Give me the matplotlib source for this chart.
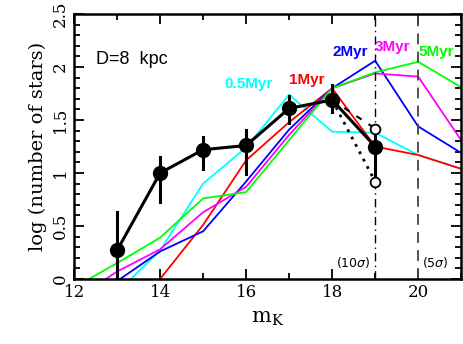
import matplotlib
matplotlib.use("Agg")
import matplotlib.pyplot as plt
from matplotlib.ticker import MultipleLocator

# Model curves (log number of stars vs K magnitude)
mag = [12, 13, 14, 15, 16, 17, 18, 19, 20, 21]
m05 = [-0.9, -0.13, 0.27, 0.90, 1.24, 1.74, 1.39, 1.38, 1.17, 1.04]
m1 = [-1.0, -0.50, 0.00, 0.51, 1.12, 1.48, 1.80, 1.25, 1.17, 1.04]
m2 = [-0.3, -0.02, 0.26, 0.45, 0.92, 1.41, 1.80, 2.06, 1.44, 1.19]
m3 = [-0.2, 0.07, 0.28, 0.63, 0.87, 1.36, 1.80, 1.94, 1.91, 1.31]
m5 = [-0.08, 0.15, 0.39, 0.76, 0.82, 1.31, 1.80, 1.95, 2.05, 1.81]

# Observed counts
obs_x = [13, 14, 15, 16, 17, 18, 19]
obs_y = [0.27, 1.00, 1.22, 1.26, 1.61, 1.69, 1.25]
obs_lo = [0.0, 0.73, 1.04, 0.99, 1.47, 1.58, 0.92]
obs_hi = [0.63, 1.15, 1.34, 1.41, 1.73, 1.83, 1.42]
# alternative values at mK=19
alt_x = [19, 19]
alt_y = [1.42, 0.92]

xticks = [12, 14, 16, 18, 20]
xticklabels = ["12", "14", "16", "18", "20"]
yticks = [0, 0.5, 1, 1.5, 2, 2.5]
yticklabels = ["0", "0.5", "1", "1.5", "2", "2.5"]

fig = plt.figure(figsize=(4.63, 3.44), dpi=100)
ax = fig.add_axes([0.16, 0.189, 0.836, 0.77])

ax.plot(mag, m05, color="#00FFFF", lw=1.3)
ax.plot(mag, m1, color="#FF0000", lw=1.3)
ax.plot(mag, m2, color="#0000FF", lw=1.3)
ax.plot(mag, m3, color="#FF00FF", lw=1.3)
ax.plot(mag, m5, color="#00FF00", lw=1.3)

ax.axvline(19, color="black", lw=1.0, ls=(0, (6, 3, 1, 3)))
ax.axvline(20, color="#444444", lw=1.3, ls=(0, (6, 4)))

ax.plot([obs_x[5], alt_x[1]], [obs_y[5], alt_y[1]], color="black", lw=2, ls=(0, (1, 2)))
ax.plot([obs_x[5], alt_x[0]], [obs_y[5], alt_y[0]], color="black", lw=1.5, ls=(0, (3, 4)))

for x, lo, hi in zip(obs_x, obs_lo, obs_hi):
    ax.plot([x, x], [lo, hi], color="black", lw=2.2)
ax.plot(obs_x, obs_y, color="black", lw=2.2, marker="o", ms=10)
ax.plot(alt_x, alt_y, ls="none", marker="o", ms=7, mfc="white", mec="black", mew=1.3)

ax.set_xlim(12, 21)
ax.set_ylim(0, 2.5)

tf = dict(family="Liberation Sans", fontweight="bold", fontsize=11)
ax.text(12.5, 2.07, "D=8  kpc", fontsize=13, family="Liberation Sans", va="center")
ax.text(15.5, 1.84, "0.5Myr", color="#00FFFF", va="center", **tf)
ax.text(17.0, 1.88, "1Myr", color="#FF0000", va="center", **tf)
ax.text(18.0, 2.14, "2Myr", color="#0000FF", va="center", **tf)
ax.text(19.0, 2.19, "3Myr", color="#FF00FF", va="center", **tf)
ax.text(20.0, 2.14, "5Myr", color="#00FF00", va="center", **tf)
ax.text(18.9, 0.16, r"(10$\sigma$)", ha="right", va="center", fontsize=9)
ax.text(20.1, 0.16, r"(5$\sigma$)", ha="left", va="center", fontsize=9)

ax.set_xticks(xticks)
ax.set_xticklabels(xticklabels, family="DejaVu Serif", fontsize=12)
ax.set_yticks(yticks)
ax.set_yticklabels(yticklabels, family="DejaVu Serif", fontsize=12,
                   rotation=90, va="center")
ax.xaxis.set_minor_locator(MultipleLocator(1))
ax.yaxis.set_minor_locator(MultipleLocator(0.1))
ax.tick_params(which="both", direction="in", top=True, right=True, width=1.3)
ax.tick_params(which="major", length=7)
ax.tick_params(which="minor", length=4)
for s in ax.spines.values():
    s.set_linewidth(1.8)

ax.set_xlabel(r"m$_\mathregular{K}$", family="DejaVu Serif", fontsize=15, labelpad=6)
ax.set_ylabel("log (number of stars)", family="DejaVu Serif", fontsize=14, labelpad=4)

fig.savefig("out.png", dpi=100)
